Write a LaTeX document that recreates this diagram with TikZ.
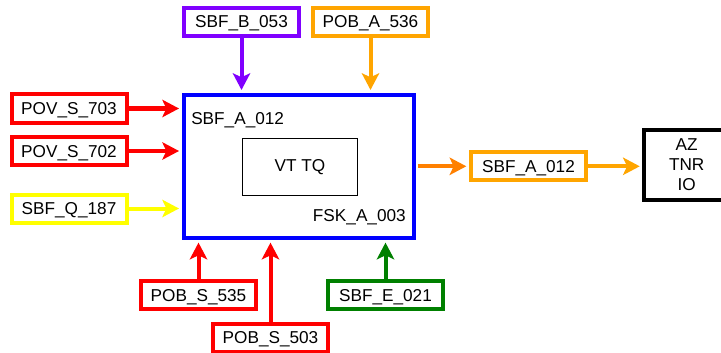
\documentclass[tikz,border=0pt]{standalone}
\usepackage{fontspec}
\setmainfont{Liberation Sans}
\usetikzlibrary{arrows.meta}
\definecolor{sigred}{RGB}{255,0,0}
\definecolor{sigblue}{RGB}{0,0,255}
\definecolor{sigpurple}{RGB}{128,0,255}
\definecolor{sigorange}{RGB}{255,165,0}
\definecolor{sigdarkorange}{RGB}{255,128,0}
\definecolor{sigyellow}{RGB}{255,255,0}
\definecolor{siggreen}{RGB}{0,128,0}

\begin{document}
\begin{tikzpicture}[x=0.75pt,y=-0.75pt,>={Stealth[length=12.5pt,width=13pt,inset=3pt]},
  font=\fontsize{12.9}{15}\selectfont,
  sig/.style={draw=#1,line width=3pt,fill=white,minimum width=86.25pt,minimum height=21pt,inner sep=0pt,text height=0.9em,text depth=0pt},
  flow/.style={draw=#1,line width=3pt,->,shorten >=2pt}]
\useasboundingbox (0,0) rectangle (721,353);

% central block
\node[draw=sigblue,line width=3pt,minimum width=172.5pt,minimum height=107.5pt,inner sep=0pt] (main) at (298.7,166.3) {};
\node[draw,line width=1pt,minimum width=86pt,minimum height=42.75pt,inner sep=0pt] (vttq) at (300,166.7) {VT TQ};
\node[anchor=base west,inner sep=0pt] (mainname) at (191,124.2) {SBF\_A\_012};
\node[anchor=base east,inner sep=0pt] (mainid) at (406,221.2) {FSK\_A\_003};

% inputs
\node[sig=sigred] (povS703) at (69,108.5) {POV\_S\_703};
\node[sig=sigred] (povS702) at (69,151) {POV\_S\_702};
\node[sig=sigyellow] (sbfQ187) at (69,208.5) {SBF\_Q\_187};
\node[sig=sigpurple] (sbfB053) at (241.5,22) {SBF\_B\_053};
\node[sig=sigorange] (pobA536) at (370.5,22) {POB\_A\_536};
\node[sig=sigred] (pobS535) at (198.5,295) {POB\_S\_535};
\node[sig=sigred] (pobS503) at (270.5,337.5) {POB\_S\_503};
\node[sig=siggreen] (sbfE021) at (385.5,295) {SBF\_E\_021};

% output
\node[sig=sigorange] (sbfOut) at (528.5,166.3) {SBF\_A\_012};
\node[draw,line width=3pt,minimum width=63.4pt,minimum height=52pt,inner sep=0pt,align=center] (azBox) at (686.7,165) {AZ\\TNR\\IO};

\draw[flow=sigred] (povS703.east) -- (povS703.east -| main.west);
\draw[flow=sigred] (povS702.east) -- (povS702.east -| main.west);
\draw[flow=sigyellow] (sbfQ187.east) -- (sbfQ187.east -| main.west);
\draw[flow=sigpurple] (sbfB053.south) -- (sbfB053.south |- main.north);
\draw[flow=sigorange] (pobA536.south) -- (pobA536.south |- main.north);
\draw[flow=sigred] (pobS535.north) -- (pobS535.north |- main.south);
\draw[flow=sigred] (pobS503.north) -- (pobS503.north |- main.south);
\draw[flow=siggreen] (sbfE021.north) -- (sbfE021.north |- main.south);
\draw[flow=sigdarkorange,shorten <=1.5pt] (main.east |- sbfOut.west) -- (sbfOut.west);
\draw[flow=sigorange] (sbfOut.east) -- (sbfOut.east -| azBox.west);
\end{tikzpicture}
\end{document}
